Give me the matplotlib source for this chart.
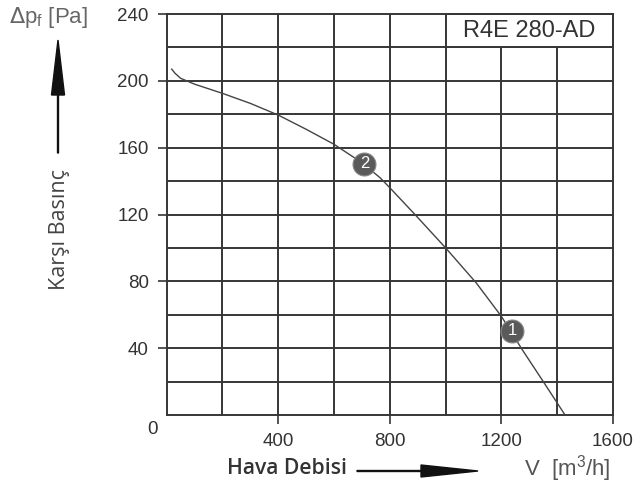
import matplotlib
matplotlib.use("Agg")
import matplotlib.pyplot as plt
from matplotlib.patches import Rectangle

# Data
flow = [18, 30, 50, 100, 200, 300, 400, 500, 600, 700, 765, 800, 890, 1000, 1110, 1200, 1275, 1350, 1428]
pressure = [207, 204.5, 201.5, 198, 192.5, 186.5, 179.5, 171, 162, 151, 142, 136, 120, 100, 79, 59, 39, 20, 0]
point_labels = ["1", "2"]
point_flow = [1239, 709]
point_pressure = [50.5, 150.5]
x_ticks = [400, 800, 1200, 1600]
y_ticks = [40, 80, 120, 160, 200, 240]
x_grid = [200, 400, 600, 800, 1000, 1200, 1400]
y_grid = [20, 40, 60, 80, 100, 120, 140, 160, 180, 200, 220]
model = "R4E 280-AD"

W, H = 642, 493
fig = plt.figure(figsize=(W / 100, H / 100), dpi=100)
ax = fig.add_axes([166.7 / W, 1 - 415 / H, (613 - 166.7) / W, (415 - 14) / H])
ax.set_xlim(0, 1600)
ax.set_ylim(0, 240)

gc = "#363636"
ax.vlines(x_grid, 0, 240, colors=gc, linewidth=1.4, zorder=1)
ax.hlines(y_grid, 0, 1600, colors=gc, linewidth=1.4, zorder=1)
for s in ax.spines.values():
    s.set_color(gc)
    s.set_linewidth(1.4)

# model label box in the top row
ax.add_patch(Rectangle((1000, 220), 600, 20, facecolor="white", edgecolor=gc,
                       linewidth=1.4, zorder=2, clip_on=False))
ax.text(1300, 230, model, ha="center", va="center", fontsize=17,
        family="Liberation Sans", color="#333333", zorder=3)

ax.plot(flow, pressure, color="#444444", linewidth=1.0, zorder=3)
for lab, px, py in zip(point_labels, point_flow, point_pressure):
    ax.plot(px, py, "o", markersize=16.5, markerfacecolor="#5a5a5a",
            markeredgecolor="#8a8a8a", markeredgewidth=0.8, zorder=4)
    ax.text(px, py, lab, ha="center", va="center", fontsize=12,
            color="white", family="Liberation Sans", zorder=5)

ax.set_xticks(x_ticks)
ax.set_yticks(y_ticks)
ax.set_xticklabels([str(v) for v in x_ticks])
ax.set_yticklabels([str(v) for v in y_ticks])
ax.tick_params(axis="both", direction="out", length=6.5, width=1.2, color=gc,
               labelsize=13.5, labelcolor="#333333", pad=6.5)
for t in ax.get_xticklabels() + ax.get_yticklabels():
    t.set_family("Liberation Sans")

# "0" corner label
fig.text(153 / W, 1 - 430 / H, "0", ha="center", va="center", fontsize=13.5,
         family="Liberation Sans", color="#333333")

# top-left axis label
fig.text(9 / W, 1 - 17 / H, r"$\Delta$p$_\mathregular{f}$ [Pa]", ha="left", va="center",
         fontsize=16, family="Liberation Sans", color="#666666")

# vertical arrow + label
fig.add_artist(matplotlib.patches.FancyArrow(58 / W, 1 - 153 / H, 0, (153 - 40) / H,
               width=0.0015, head_width=13 / W, head_length=55 / H,
               length_includes_head=True, color="#111111", transform=fig.transFigure))
fig.text(59 / W, 1 - 229 / H, "Karşı Basınç", rotation=90, ha="center", va="center",
         fontsize=15.5, family="Open Sans", color="#444444")

# bottom label + arrow
fig.text(227 / W, 1 - 469 / H, "Hava Debisi", ha="left", va="center",
         fontsize=15.2, family="Open Sans", fontweight="semibold", color="#333333")
fig.add_artist(matplotlib.patches.FancyArrow(357 / W, 1 - 471 / H, (478 - 357) / W, 0,
               width=0.002, head_width=12 / H, head_length=57 / W,
               length_includes_head=True, color="#111111", transform=fig.transFigure))
fig.text(524 / W, 1 - 469 / H, r"V  [m$^\mathregular{3}$/h]", ha="left", va="center",
         fontsize=16, family="Liberation Sans", color="#555555")

fig.savefig("out.png", dpi=100)
